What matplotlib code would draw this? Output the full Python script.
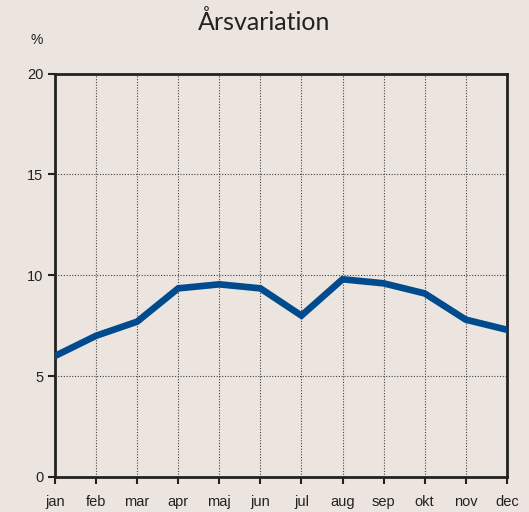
import matplotlib
matplotlib.use("Agg")
import matplotlib.pyplot as plt

months = ["jan", "feb", "mar", "apr", "maj", "jun", "jul", "aug", "sep", "okt", "nov", "dec"]
values = [6.0, 7.0, 7.7, 9.35, 9.55, 9.35, 8.0, 9.8, 9.6, 9.1, 7.8, 7.3]
yticks = [0, 5, 10, 15, 20]

bg = "#ECE4DF"
fig = plt.figure(figsize=(5.29, 5.12), dpi=100, facecolor=bg)
ax = fig.add_axes([0.104, 0.0684, 0.854, 0.788], facecolor=bg)

x = list(range(len(months)))
ax.plot(x, values, color="#004B8D", linewidth=4.8, solid_joinstyle="miter", zorder=3)

ax.set_xlim(0, len(months) - 1)
ax.set_ylim(0, 20)
ax.set_xticks(x)
ax.set_xticklabels(months)
ax.set_yticks(yticks)
ax.grid(True, linestyle=(0, (1, 1.5)), color="#444444", linewidth=0.8)
for s in ax.spines.values():
    s.set_linewidth(2)
    s.set_color("#222222")
ax.tick_params(axis="both", direction="out", length=5, width=1.5, color="#222222",
               labelsize=10.5, labelcolor="#222222")
ax.tick_params(axis="x", pad=8)
for lab in ax.get_xticklabels() + ax.get_yticklabels():
    lab.set_fontfamily("Liberation Sans")

fig.text(0.5, 0.958, "Årsvariation", ha="center", va="center", fontsize=18,
         family="Lato", color="#222222")
fig.text(0.07, 0.922, "%", ha="center", va="center", fontsize=10,
         family="Liberation Sans", color="#222222")

fig.savefig("out.png", dpi=100, facecolor=bg)
